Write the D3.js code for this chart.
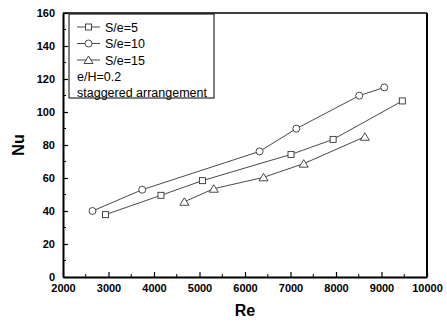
<!DOCTYPE html>
<html>
<head>
<meta charset="utf-8">
<script src="https://cdn.jsdelivr.net/npm/d3@7/dist/d3.min.js"></script>
<style>
  body { margin: 0; background: #fff; }
  svg { display: block; font-family: "Liberation Sans", Arial, sans-serif; }
</style>
</head>
<body>
<svg id="chart" width="447" height="322"></svg>
<script>
// values
var re5  = [2934, 4153, 5064, 7011, 7937, 9458];
var nu5  = [37.8, 49.5, 58.4, 74.3, 83.4, 106.7];
var re10 = [2648, 3741, 6320, 7128, 8510, 9061];
var nu10 = [40.0, 52.9, 76.1, 89.9, 109.9, 114.9];
var re15 = [4667, 5314, 6408, 7290, 8634];
var nu15 = [45.6, 53.5, 60.4, 68.7, 85.0];
var xTicks = [2000, 3000, 4000, 5000, 6000, 7000, 8000, 9000, 10000];
var yTicks = [0, 20, 40, 60, 80, 100, 120, 140, 160];
var seriesNames = ["S/e=5", "S/e=10", "S/e=15"];
var noteLines = ["e/H=0.2", "staggered arrangement"];

var series = [
  { name: seriesNames[0], x: re5, y: nu5, marker: "square" },
  { name: seriesNames[1], x: re10, y: nu10, marker: "circle" },
  { name: seriesNames[2], x: re15, y: nu15, marker: "triangle" }
];

var svg = d3.select("#chart"),
    margin = {top: 13, right: 20, bottom: 45, left: 63},
    width = +svg.attr("width") - margin.left - margin.right,
    height = +svg.attr("height") - margin.top - margin.bottom,
    g = svg.append("g").attr("transform", "translate(" + margin.left + "," + margin.top + ")");

var x = d3.scaleLinear().domain([2000, 10000]).range([0, width]);
var y = d3.scaleLinear().domain([0, 160]).range([height, 0]);

// minor ticks (inward)
var xMinor = d3.range(2500, 10000, 1000);
var yMinor = d3.range(10, 160, 20);

g.append("g").selectAll("line").data(xMinor).enter().append("line")
    .attr("x1", d => x(d)).attr("x2", d => x(d))
    .attr("y1", height).attr("y2", height - 3)
    .attr("stroke", "#000");
g.append("g").selectAll("line").data(yMinor).enter().append("line")
    .attr("y1", d => y(d)).attr("y2", d => y(d))
    .attr("x1", 0).attr("x2", 3)
    .attr("stroke", "#000");

var xAxis = g.append("g")
    .attr("transform", "translate(0," + height + ")")
    .call(d3.axisBottom(x).tickValues(xTicks).tickFormat(d3.format("d"))
      .tickSizeInner(-5).tickSizeOuter(0).tickPadding(9));
var yAxis = g.append("g")
    .call(d3.axisLeft(y).tickValues(yTicks).tickFormat(d3.format("d"))
      .tickSizeInner(-5).tickSizeOuter(0).tickPadding(8));

[xAxis, yAxis].forEach(function(a) {
  a.select(".domain").attr("stroke-width", 2);
  a.selectAll(".tick line").attr("stroke-width", 1.2);
  a.selectAll("text").attr("font-size", 11).attr("font-weight", "bold")
    .attr("font-family", "Liberation Sans, Arial, sans-serif").attr("fill", "#000");
});
xAxis.selectAll("text").attr("dy", "0.5em");

// top and right frame
g.append("line").attr("x1", 0).attr("x2", width).attr("y1", 0).attr("y2", 0)
    .attr("stroke", "#000").attr("stroke-width", 1.5);
g.append("line").attr("x1", width).attr("x2", width).attr("y1", 0).attr("y2", height)
    .attr("stroke", "#000").attr("stroke-width", 2);

var line = d3.line().x(d => x(d[0])).y(d => y(d[1]));

function drawMarker(sel, type) {
  if (type === "square") {
    sel.append("rect").attr("x", -3).attr("y", -3).attr("width", 6).attr("height", 6);
  } else if (type === "circle") {
    sel.append("circle").attr("r", 3.5);
  } else {
    sel.append("path").attr("d", "M0,-4L4.5,3.5L-4.5,3.5Z");
  }
  sel.selectAll("*").attr("fill", "#fff").attr("stroke", "#333").attr("stroke-width", 0.9);
}

series.forEach(function(s) {
  var pts = s.x.map((v, i) => [v, s.y[i]]);
  g.append("path")
      .datum(pts)
      .attr("fill", "none")
      .attr("stroke", "#333")
      .attr("stroke-width", 0.9)
      .attr("d", line);
  g.append("g").selectAll("g").data(pts).enter().append("g")
      .attr("transform", d => "translate(" + x(d[0]) + "," + y(d[1]) + ")")
      .each(function() { drawMarker(d3.select(this), s.marker); });
});

// legend
var leg = svg.append("g").attr("transform", "translate(69,14)");
leg.append("rect").attr("width", 145).attr("height", 84)
    .attr("fill", "#fff").attr("stroke", "#000").attr("stroke-width", 1);
series.forEach(function(s, i) {
  var row = leg.append("g").attr("transform", "translate(0," + (13 + i * 16.5) + ")");
  row.append("line").attr("x1", 8).attr("x2", 31).attr("stroke", "#333").attr("stroke-width", 0.9);
  drawMarker(row.append("g").attr("transform", "translate(19.5,0)"), s.marker);
  row.append("text").attr("x", 36).attr("dy", "0.36em")
      .attr("font-size", 12.5).text(s.name);
});
noteLines.forEach(function(t, i) {
  leg.append("text").attr("x", 8).attr("y", 62.5 + i * 15.5).attr("dy", "0.36em")
      .attr("font-size", 12.5).text(t);
});

// axis titles
svg.append("text").attr("x", margin.left + width / 2).attr("y", 316)
    .attr("text-anchor", "middle").attr("font-size", 16).attr("font-weight", "bold").text("Re");
svg.append("text").attr("transform", "translate(24," + (margin.top + height / 2) + ") rotate(-90)")
    .attr("text-anchor", "middle").attr("font-size", 16).attr("font-weight", "bold").text("Nu");
</script>
</body>
</html>
